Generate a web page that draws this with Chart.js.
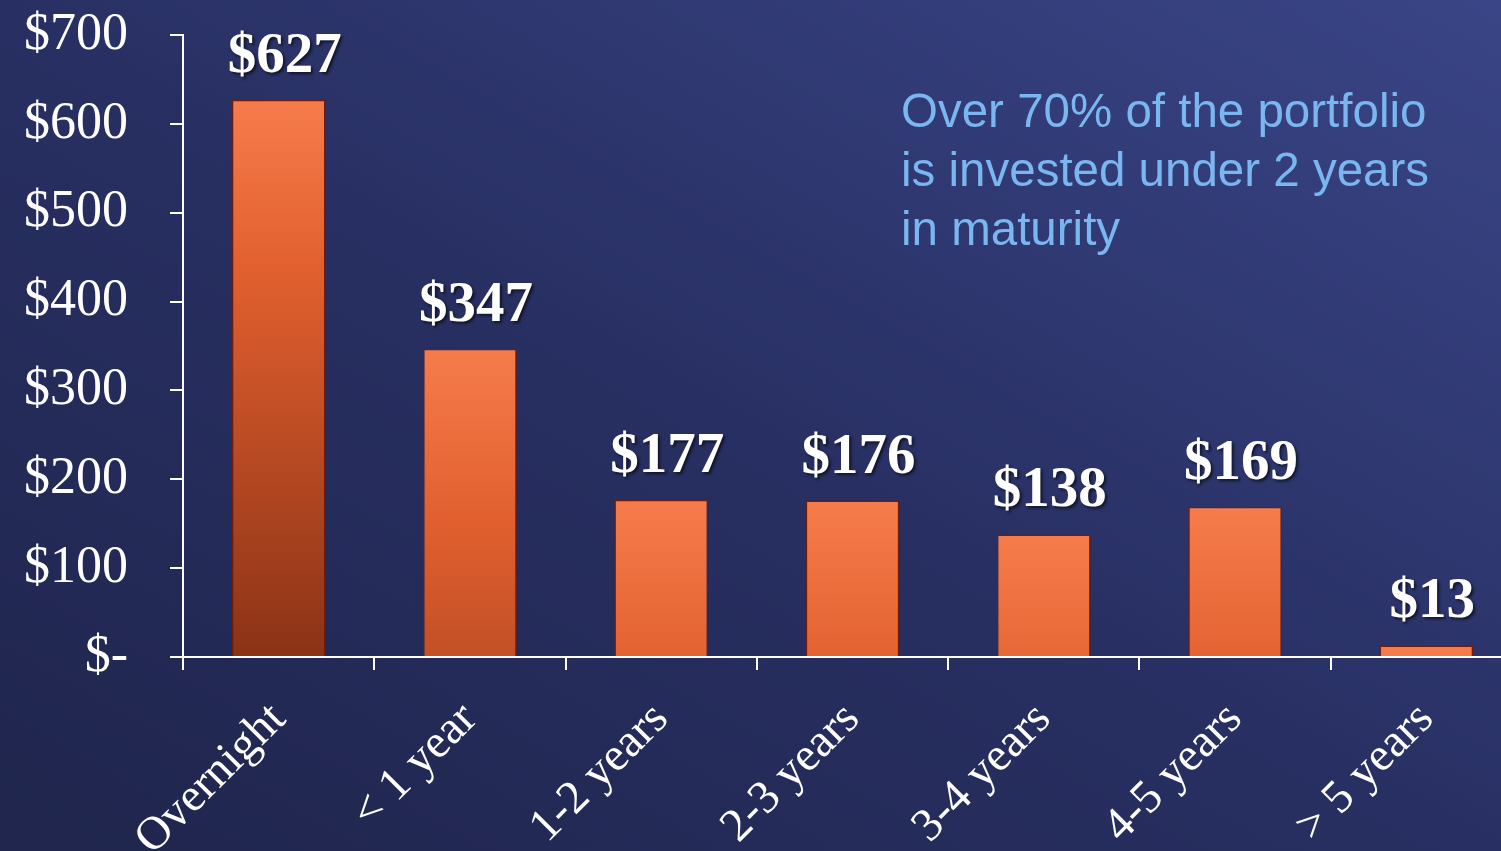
<!DOCTYPE html>
<html>
<head>
<meta charset="utf-8">
<script src="https://cdn.jsdelivr.net/npm/chart.js@4/dist/chart.umd.min.js"></script>
<style>
  html, body { margin: 0; padding: 0; width: 1501px; height: 851px; overflow: hidden;
    background: linear-gradient(to top right, #1f254c 0%, #283063 50%, #3a4587 100%); }
  #wrap { position: absolute; left: 0; top: 0; width: 1522px; height: 851px; }
</style>
</head>
<body>
<div id="wrap"><canvas id="c" width="1522" height="851"></canvas></div>
<script>
const categories = ["Overnight", "< 1 year", "1-2 years", "2-3 years", "3-4 years", "4-5 years", "> 5 years"];
const values = [627, 347, 177, 176, 138, 169, 13];
const valueLabels = ["$627", "$347", "$177", "$176", "$138", "$169", "$13"];
const yTickLabels = { 0: "$-", 100: "$100", 200: "$200", 300: "$300", 400: "$400", 500: "$500", 600: "$600", 700: "$700" };
const noteLines = ["Over 70% of the portfolio", "is invested under 2 years", "in maturity"];

const SERIF = "'Liberation Serif', 'DejaVu Serif', serif";

function barFill(ctx) {
  const chart = ctx.chart;
  const ys = chart.scales && chart.scales.y;
  if (!chart.chartArea || !ys || ctx.dataIndex === undefined) return '#e8683a';
  const top = ys.getPixelForValue(values[ctx.dataIndex]);
  const g = chart.ctx.createLinearGradient(0, top, 0, top + 560);
  g.addColorStop(0, '#f67c4c');
  g.addColorStop(0.3, '#e2602f');
  g.addColorStop(1, '#8a3216');
  return g;
}

const valueLabelPlugin = {
  id: 'valueLabels',
  afterDatasetsDraw(chart) {
    const ctx = chart.ctx;
    const meta = chart.getDatasetMeta(0);
    ctx.save();
    ctx.font = "bold 57px " + SERIF;
    ctx.fillStyle = '#ffffff';
    ctx.textAlign = 'center';
    ctx.textBaseline = 'alphabetic';
    ctx.shadowColor = 'rgba(0,0,0,0.6)';
    ctx.shadowOffsetX = 2;
    ctx.shadowOffsetY = 2;
    ctx.shadowBlur = 3;
    meta.data.forEach((bar, i) => {
      ctx.fillText(valueLabels[i], bar.x + 6, bar.y - 28);
    });
    ctx.restore();

    ctx.save();
    ctx.font = "47.5px 'Liberation Sans', Arial, sans-serif";
    ctx.fillStyle = '#7ab6f0';
    ctx.textAlign = 'left';
    ctx.textBaseline = 'alphabetic';
    noteLines.forEach((t, i) => ctx.fillText(t, 901, 127 + i * 59));
    ctx.restore();
  }
};

new Chart(document.getElementById('c'), {
  type: 'bar',
  data: {
    labels: categories,
    datasets: [{
      data: values,
      backgroundColor: barFill,
      borderColor: '#6e1c0e',
      borderWidth: 1.5,
      barPercentage: 0.7,
      categoryPercentage: 0.7
    }]
  },
  options: {
    responsive: false,
    animation: false,
    devicePixelRatio: 1,
    layout: { padding: { top: 35, right: 0, left: 0, bottom: 0 } },
    plugins: { legend: { display: false }, tooltip: { enabled: false } },
    scales: {
      x: {
        offset: true,
        grid: { offset: true, drawOnChartArea: false, drawTicks: true, tickLength: 13, color: '#ffffff', lineWidth: 2 },
        border: { display: true, color: '#ffffff', width: 2 },
        ticks: {
          color: '#ffffff', font: { family: SERIF, size: 47 },
          minRotation: 45, maxRotation: 45, autoSkip: false, padding: 22
        },
        afterFit(scale) { scale.height = 194; }
      },
      y: {
        min: 0, max: 700,
        ticks: {
          stepSize: 100, color: '#ffffff', font: { family: SERIF, size: 52 }, padding: 42,
          callback: (v) => yTickLabels[v]
        },
        grid: { drawOnChartArea: false, drawTicks: true, tickLength: 13, color: '#ffffff', lineWidth: 2 },
        border: { display: true, color: '#ffffff', width: 2 },
        afterFit(scale) { scale.width = 183; scale.paddingTop = 0; scale.paddingBottom = 0; }
      }
    }
  },
  plugins: [valueLabelPlugin]
});
</script>
</body>
</html>
